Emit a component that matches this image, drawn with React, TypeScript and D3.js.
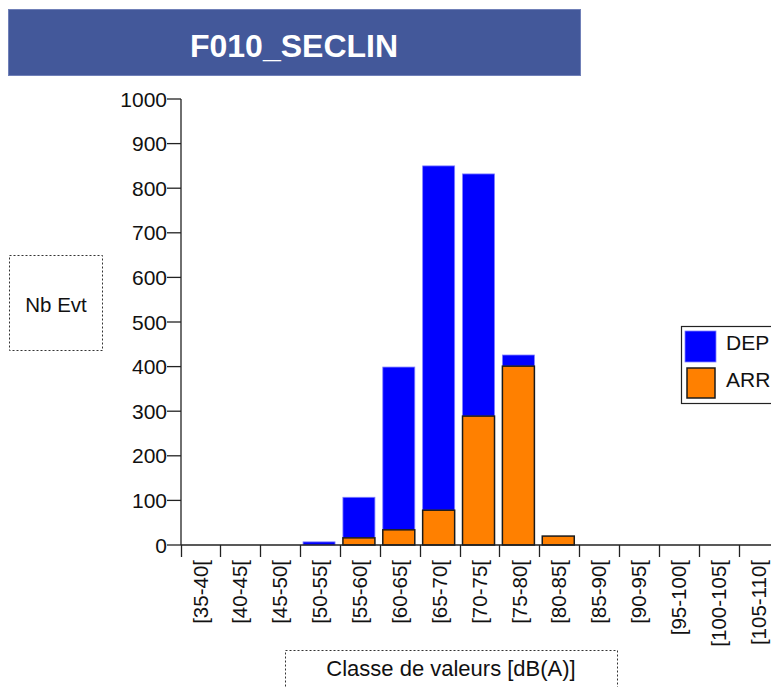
import React from "react";
import * as d3 from "d3";

const categories = ["[35-40[", "[40-45[", "[45-50[", "[50-55[", "[55-60[", "[60-65[", "[65-70[", "[70-75[", "[75-80[", "[80-85[", "[85-90[", "[90-95[", "[95-100[", "[100-105[", "[105-110["];
const arrValues = [0, 0, 0, 0, 16, 34, 78, 289, 401, 20, 0, 0, 0, 0, 0];
const depValues = [0, 0, 0, 7, 91, 365, 772, 543, 25, 0, 0, 0, 0, 0, 0];
const yTicks = [0, 100, 200, 300, 400, 500, 600, 700, 800, 900, 1000];
const seriesNames = ["DEP", "ARR"];
const title = "F010_SECLIN";

const FONT = "'Liberation Sans', Arial, sans-serif";

export default function App() {
  const W = 771, H = 687;
  const y = d3.scaleLinear().domain([0, 1000]).range([545, 99]);
  const x = d3.scaleBand<string>().domain(categories).range([180.5, 180.5 + 15 * 39.87]).paddingInner(0).paddingOuter(0);
  const bw = x.bandwidth();
  const barW = 32;
  const axisX = 181;
  const baseY = y(0);

  return (
    <div style={{ position: "absolute", left: 0, top: 0, width: W, height: H, overflow: "hidden", background: "#fff" }}>
      <svg width={W} height={H} style={{ display: "block", fontFamily: FONT }}>
        <rect x={0} y={0} width={W} height={H} fill="#fff" />
        {/* Title */}
        <rect x={8.5} y={9.5} width={572} height={66} fill="#43589a" stroke="#7080b8" strokeWidth={1} />
        <text x={294} y={57} textAnchor="middle" fill="#fff" fontSize={32} fontWeight="bold">{title}</text>

        {/* Y label box */}
        <rect x={9.5} y={255.5} width={93} height={95} fill="none" stroke="#333" strokeDasharray="2,2" />
        <text x={56} y={311.5} textAnchor="middle" fontSize={20.5} fill="#111">Nb Evt</text>

        {/* X label box */}
        <rect x={285.5} y={650.5} width={332} height={50} fill="none" stroke="#333" strokeDasharray="2,2" />
        <text x={451} y={676} textAnchor="middle" fontSize={22} fill="#111">Classe de valeurs [dB(A)]</text>

        {/* Bars */}
        {categories.map((c, i) => {
          const x0 = (x(c) as number) + (bw - barW) / 2 - 1;
          const arr = arrValues[i];
          const dep = depValues[i];
          const els: any[] = [];
          if (dep > 0) {
            els.push(
              <rect key={"d" + i} x={x0} y={y(arr + dep)} width={barW} height={y(arr) - y(arr + dep)} fill="#0000ff" stroke="#8080ff" strokeWidth={0.8} />
            );
          }
          if (arr > 0) {
            els.push(
              <rect key={"a" + i} x={x0} y={y(arr)} width={barW} height={baseY - y(arr)} fill="#ff8000" stroke="#1a1a1a" strokeWidth={1.5} />
            );
          }
          return <g key={c}>{els}</g>;
        })}

        {/* Y axis */}
        <line x1={axisX} y1={y(1000)} x2={axisX} y2={baseY} stroke="#222" strokeWidth={1.3} />
        {yTicks.map((t) => (
          <g key={t}>
            <line x1={axisX - 14} x2={axisX} y1={y(t)} y2={y(t)} stroke="#222" strokeWidth={1.3} />
            <text x={axisX - 14} y={y(t)} dy="0.36em" textAnchor="end" fontSize={21} fill="#111">{t}</text>
          </g>
        ))}

        {/* X axis */}
        <line x1={axisX} y1={baseY} x2={W} y2={baseY} stroke="#222" strokeWidth={1.3} />
        {categories.map((c) => {
          const bx = x(c) as number;
          const cx = bx + bw / 2;
          return (
            <g key={"t" + c}>
              <line x1={Math.round(bx) + 0.5} x2={Math.round(bx) + 0.5} y1={baseY} y2={baseY + 12} stroke="#222" strokeWidth={1.3} />
              <text transform={`translate(${cx},${baseY + 15}) rotate(-90)`} textAnchor="end" dy="0.35em" fontSize={20.5} fill="#111">{c}</text>
            </g>
          );
        })}

        {/* Legend */}
        <rect x={681.5} y={326.5} width={120} height={77} fill="#fff" stroke="#222" strokeWidth={1.2} />
        <rect x={685} y={331} width={31} height={31} fill="#0000ff" stroke="#8080ff" strokeWidth={0.8} />
        <text x={726} y={350} fontSize={21} fill="#111">{seriesNames[0]}</text>
        <rect x={687} y={368} width={28} height={30} fill="#ff8000" stroke="#1a1a1a" strokeWidth={1.5} />
        <text x={726} y={387} fontSize={21} fill="#111">{seriesNames[1]}</text>
      </svg>
    </div>
  );
}
